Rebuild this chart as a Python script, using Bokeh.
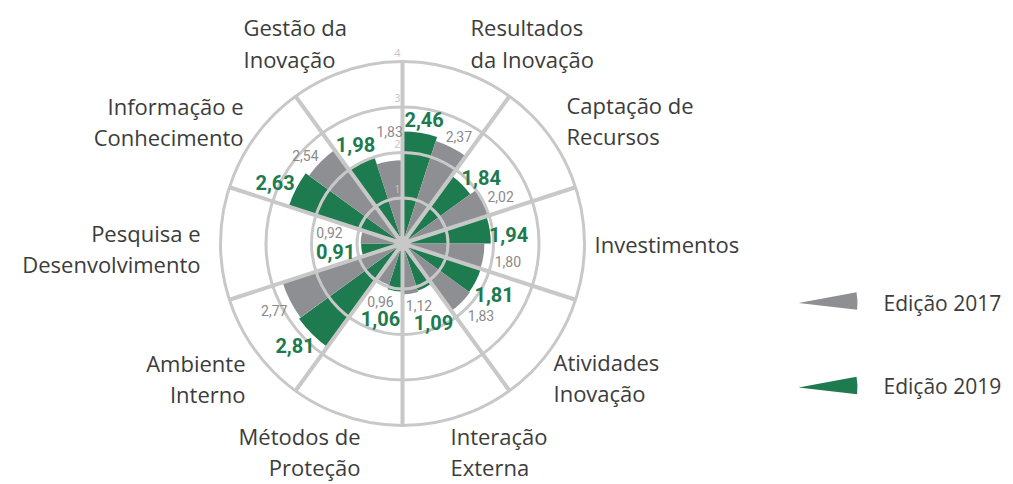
import math
from bokeh.plotting import figure
from bokeh.models import ColumnDataSource
from bokeh.core.properties import value
from bokeh.embed import file_html
from bokeh.resources import INLINE

# ---------------- data ----------------
categories = ["Resultados\nda Inovação", "Captação de\nRecursos", "Investimentos",
              "Atividades\nInovação", "Interação\nExterna", "Métodos de\nProteção",
              "Ambiente\nInterno", "Pesquisa e\nDesenvolvimento",
              "Informação e\nConhecimento", "Gestão da\nInovação"]
v2017 = [2.37, 2.02, 1.80, 1.83, 1.12, 0.96, 2.77, 0.92, 2.54, 1.83]
v2019 = [2.46, 1.84, 1.94, 1.81, 1.09, 1.06, 2.81, 0.91, 2.63, 1.98]
ticks = [1, 2, 3, 4]
series_names = ["Edição 2017", "Edição 2019"]

# ---------------- layout / style ----------------
W, H = 1013, 484
PX = 45.5                 # pixels per radial unit
CX, CY = 402, 243         # centre in figure pixels
GREY = "#8e8f93"
GREEN = "#1d7b4f"
GRID = "#c8c8c8"
TXT = "#3c3c3c"
NUMF = "Roboto"

# label nudges (radial pad in units, angular shift in degrees)
g_pad = [0.30, 0.42, 0.40, 0.49, 0.78, 0.66, 0.44, 0.57, 0.47, 0.42]
g_dang = [0.9, 5.0, 3.9, 1.9, 5.6, 7.3, 1.6, 2.6, -1.6, 1.5]
e_pad = [0.28, 0.37, 0.55, 0.51, 0.29, 0.40, 0.41, 0.70, 0.34, 0.64]
e_dang = [0.9, 1.4, 0.7, -2.5, -5.9, -6.2, -0.6, -0.8, -2.8, 2.4]
# category label anchors, pixel offsets from centre
cat_dx = [68, 164, 192, 151, 48, -42, -157, -202, -159, -159]
cat_dy = [200.5, 123, 0, -134, -208, -208, -135, -5, 122, 200.5]
cat_align = ["left", "left", "left", "left", "left", "right", "right", "right", "right", "left"]

n = len(categories)
step = 360.0 / n
half = step / 2

p = figure(width=W, height=H, output_backend="svg", toolbar_location=None,
           x_range=(-CX / PX, (W - CX) / PX), y_range=(-(H - CY) / PX, CY / PX),
           min_border=0, match_aspect=False)
p.axis.visible = False
p.grid.visible = False
p.outline_line_color = None
p.background_fill_color = "white"
p.border_fill_color = "white"

rad = math.radians

# wedges (clockwise from top; green first half, grey second half of each sector)
g_start = [rad(90 - (i * step + half)) for i in range(n)]
g_end = [rad(90 - i * step) for i in range(n)]
e_start = [rad(90 - (i * step + step)) for i in range(n)]
e_end = [rad(90 - (i * step + half)) for i in range(n)]

src_g = ColumnDataSource(dict(x=[0] * n, y=[0] * n, r=v2019, s=g_start, e=g_end))
src_e = ColumnDataSource(dict(x=[0] * n, y=[0] * n, r=v2017, s=e_start, e=e_end))
p.wedge(x="x", y="y", radius="r", start_angle="s", end_angle="e", source=src_g,
        fill_color=GREEN, line_color=None)
p.wedge(x="x", y="y", radius="r", start_angle="s", end_angle="e", source=src_e,
        fill_color=GREY, line_color=None)

# grid circles
p.circle(x=[0] * len(ticks), y=[0] * len(ticks), radius=ticks, fill_color=None,
         line_color=GRID, line_width=3)

# spokes
R = ticks[-1]
sx1 = [R * math.sin(rad(i * step)) for i in range(n)]
sy1 = [R * math.cos(rad(i * step)) for i in range(n)]
p.segment(x0=[0] * n, y0=[0] * n, x1=sx1, y1=sy1, line_color=GRID, line_width=4)
p.circle(x=[0], y=[0], radius=0.17, fill_color=GRID, line_color=None)

# tick labels
p.text(x=[-0.11] * len(ticks), y=[t + 0.19 for t in ticks], text=[str(t) for t in ticks],
       text_font=value("Open Sans"), text_font_size="11px", text_color="#c4c4c4",
       text_align="center", text_baseline="middle")

# value labels
def fmt(v):
    return f"{v:.2f}".replace(".", ",")

gx, gy, ex, ey = [], [], [], []
for i in range(n):
    a = rad(i * step + half / 2 + g_dang[i]); r = v2019[i] + g_pad[i]
    gx.append(r * math.sin(a)); gy.append(r * math.cos(a))
    a = rad(i * step + half + half / 2 + e_dang[i]); r = v2017[i] + e_pad[i]
    ex.append(r * math.sin(a)); ey.append(r * math.cos(a))

p.text(x=gx, y=gy, text=[fmt(v) for v in v2019], text_font=value(NUMF),
       text_font_style="bold", text_font_size="20px", text_color=GREEN,
       text_align="center", text_baseline="middle")
p.text(x=ex, y=ey, text=[fmt(v) for v in v2017], text_font=value(NUMF),
       text_font_size="14px", text_color="#8a8a8c",
       text_align="center", text_baseline="middle")

# category labels
for al in ("left", "right"):
    idx = [i for i in range(n) if cat_align[i] == al]
    p.text(x=[cat_dx[i] / PX for i in idx], y=[cat_dy[i] / PX for i in idx],
           text=[categories[i] for i in idx], text_font=value("Open Sans"),
           text_font_size="22px", text_color=TXT, text_align=al,
           text_baseline="middle", text_line_height=1.05)

# legend
leg_x = 396 / PX
leg_y = [-59.5 / PX, -144 / PX]
leg_col = [GREY, GREEN]
p.wedge(x=[leg_x] * 2, y=leg_y, radius=59 / PX, start_angle=rad(-6.5), end_angle=rad(10.5),
        fill_color=leg_col, line_color=None)
p.text(x=[481 / PX] * 2, y=[-59 / PX, -142 / PX], text=series_names,
       text_font=value("Open Sans"), text_font_size="21px", text_color=TXT,
       text_align="left", text_baseline="middle")

open("out.html", "w").write(file_html(p, INLINE))
